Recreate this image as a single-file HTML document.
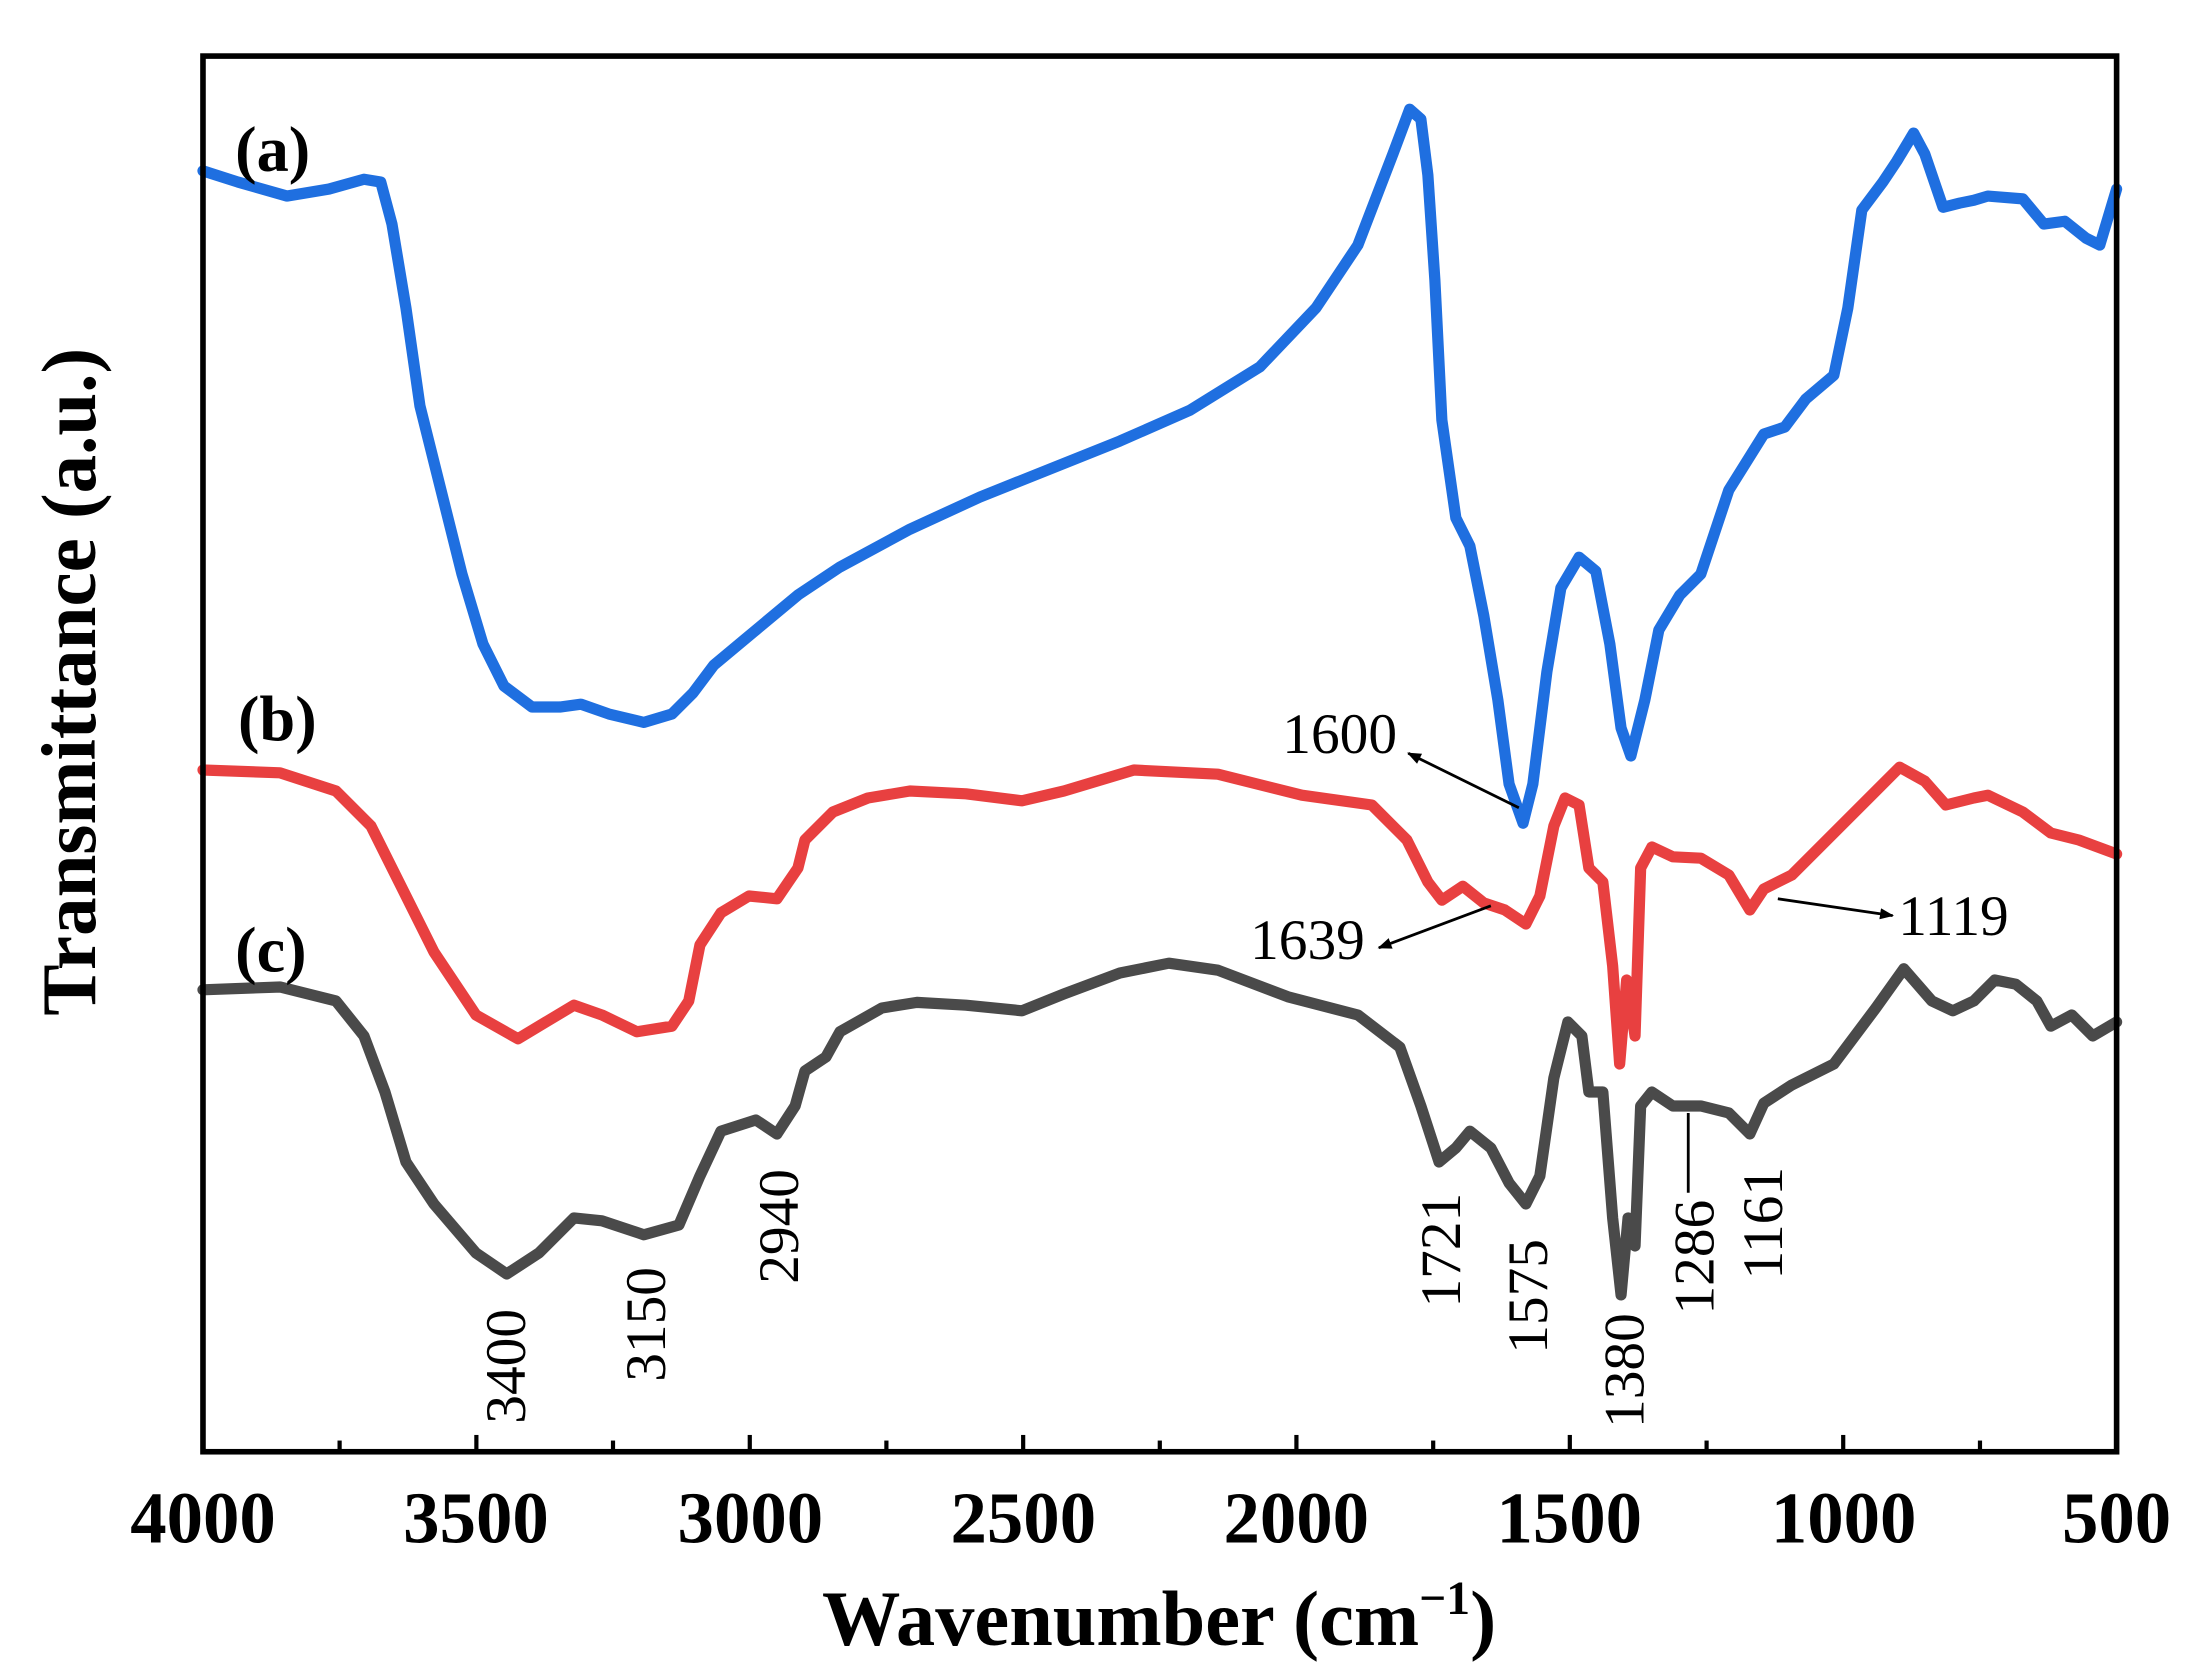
<!DOCTYPE html>
<html><head><meta charset="utf-8"><style>
html,body{margin:0;padding:0;background:#fff;}
svg{display:block;}
text{font-family:"Liberation Serif",serif;}
</style></head><body>
<svg width="2195" height="1680" viewBox="0 0 1568 1200" xmlns="http://www.w3.org/2000/svg">
<defs>
<marker id="ar" markerWidth="10" markerHeight="8" refX="9" refY="4" orient="auto" markerUnits="userSpaceOnUse">
<path d="M0,0 L10,4 L0,8 z" fill="#000"/></marker>
</defs>
<rect x="0" y="0" width="1568" height="1200" fill="#fff"/>
<g fill="none" stroke-linejoin="round" stroke-linecap="round" stroke-width="8">
<polyline stroke="#1f6fe0" points="145,122 170,130 205,140 235,135 260,128 272,130 280,160 290,220 300,290 315,350 330,410 345,460 360,490 380,505 400,505 415,503 435,510 460,516 480,510 495,495 510,475 540,450 570,425 600,405 650,378 700,355 750,335 800,315 850,293 900,262 940,220 970,175 995,110 1007,78 1015,85 1020,125 1025,200 1030,300 1040,370 1050,390 1060,440 1070,500 1078,560 1088,588 1095,560 1105,480 1115,420 1128,398 1140,408 1150,460 1158,520 1165,540 1175,500 1185,450 1200,425 1215,410 1235,350 1260,310 1275,305 1290,285 1310,268 1320,220 1330,150 1345,130 1355,115 1367,95 1375,110 1388,148 1400,145 1410,143 1420,140 1445,142 1460,160 1475,158 1490,170 1500,175 1512,135"/>
<polyline stroke="#e84040" points="145,550 200,552 240,565 265,590 285,630 310,680 340,725 370,742 390,730 410,718 430,725 455,737 480,733 492,715 500,675 515,652 535,640 555,642 570,620 575,600 595,580 620,570 650,565 690,567 730,572 760,565 810,550 870,553 930,568 980,575 1005,600 1020,630 1030,643 1045,633 1060,645 1075,650 1090,660 1100,640 1110,590 1118,570 1128,575 1135,620 1145,630 1152,690 1157,760 1162,700 1168,740 1172,620 1180,605 1195,612 1215,613 1235,625 1250,650 1260,635 1280,625 1310,595 1340,565 1357,548 1375,558 1390,575 1410,570 1420,568 1445,580 1465,595 1485,600 1512,610"/>
<polyline stroke="#4a4a4a" points="145,707 200,705 240,715 260,740 275,780 290,830 310,860 340,895 362,910 385,895 410,870 430,872 460,882 485,875 500,840 515,808 540,800 555,810 568,790 575,765 590,755 600,737 630,720 655,716 690,718 730,722 760,710 800,695 835,688 870,693 920,712 970,725 1000,748 1015,790 1028,830 1040,820 1050,808 1065,820 1078,845 1090,860 1100,840 1110,770 1120,730 1130,740 1135,780 1145,780 1152,870 1158,925 1163,870 1168,890 1172,790 1180,780 1195,790 1215,790 1235,795 1250,810 1260,788 1280,775 1310,760 1340,720 1360,692 1380,715 1395,722 1410,715 1425,700 1440,703 1455,715 1465,733 1480,725 1495,740 1512,730"/>
</g>
<rect x="145" y="40" width="1367" height="997" fill="none" stroke="#000" stroke-width="4"/>
<g stroke="#000" stroke-width="3">
<line x1="340.3" y1="1037" x2="340.3" y2="1025"/><line x1="535.6" y1="1037" x2="535.6" y2="1025"/><line x1="730.9" y1="1037" x2="730.9" y2="1025"/><line x1="926.1" y1="1037" x2="926.1" y2="1025"/><line x1="1121.4" y1="1037" x2="1121.4" y2="1025"/><line x1="1316.7" y1="1037" x2="1316.7" y2="1025"/>
<line x1="242.6" y1="1037" x2="242.6" y2="1029"/><line x1="437.9" y1="1037" x2="437.9" y2="1029"/><line x1="633.2" y1="1037" x2="633.2" y2="1029"/><line x1="828.5" y1="1037" x2="828.5" y2="1029"/><line x1="1023.8" y1="1037" x2="1023.8" y2="1029"/><line x1="1219.1" y1="1037" x2="1219.1" y2="1029"/><line x1="1414.4" y1="1037" x2="1414.4" y2="1029"/>
</g>
<g font-size="52" font-weight="bold" text-anchor="middle">
<text x="145" y="1102">4000</text><text x="340" y="1102">3500</text><text x="536" y="1102">3000</text><text x="731" y="1102">2500</text><text x="926" y="1102">2000</text><text x="1121" y="1102">1500</text><text x="1317" y="1102">1000</text><text x="1512" y="1102">500</text>
</g>
<text x="828" y="1175" font-size="56" font-weight="bold" text-anchor="middle">Wavenumber (cm<tspan dy="-22" font-size="34">−1</tspan><tspan dy="22">)</tspan></text>
<text transform="translate(68,487) rotate(-90)" font-size="55" font-weight="bold" text-anchor="middle">Transmittance (a.u.)</text>
<g font-size="46" font-weight="bold">
<text x="168" y="122">(a)</text><text x="170" y="529">(b)</text><text x="168" y="694">(c)</text>
</g>
<g font-size="41">
<text x="916" y="538">1600</text>
<text x="893" y="685">1639</text>
<text x="1356" y="668">1119</text>
</g>
<g stroke="#000" stroke-width="2" marker-end="url(#ar)">
<line x1="1085" y1="577" x2="1006" y2="538"/>
<line x1="1065" y1="647" x2="985" y2="677"/>
<line x1="1270" y1="642" x2="1352" y2="654"/>
</g>
<line x1="1206" y1="795" x2="1206" y2="852" stroke="#000" stroke-width="2"/>
<g font-size="41">
<text transform="translate(375,1017) rotate(-90)">3400</text>
<text transform="translate(475,987) rotate(-90)">3150</text>
<text transform="translate(570,917) rotate(-90)">2940</text>
<text transform="translate(1043,934) rotate(-90)">1721</text>
<text transform="translate(1105,967) rotate(-90)">1575</text>
<text transform="translate(1174,1020) rotate(-90)">1380</text>
<text transform="translate(1224,939) rotate(-90)">1286</text>
<text transform="translate(1273,914) rotate(-90)">1161</text>
</g>
</svg>
</body></html>
